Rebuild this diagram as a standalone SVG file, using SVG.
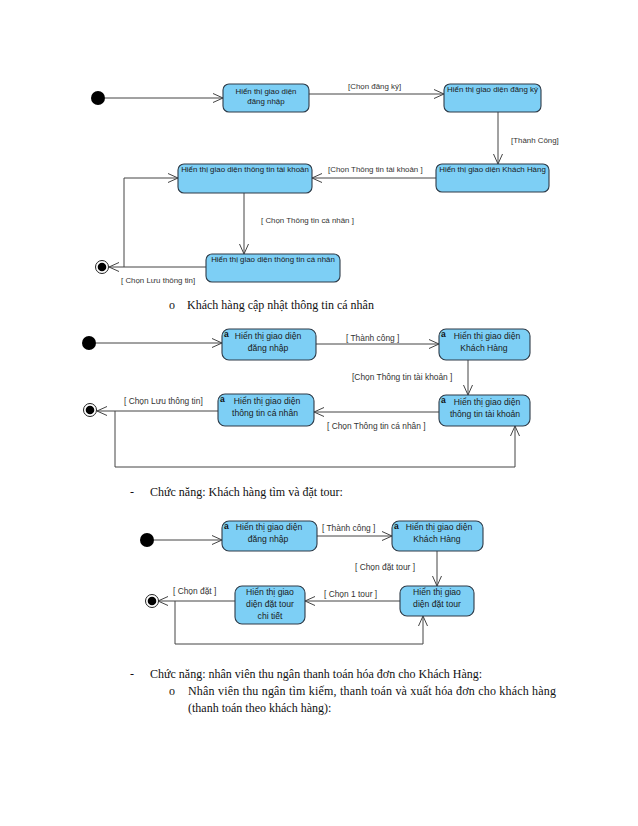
<svg xmlns="http://www.w3.org/2000/svg" width="638" height="826" viewBox="0 0 638 826">
<style>
.node{fill:#7dcff5;stroke:#2e3b48;stroke-width:1.1}
.nt{font-family:"Liberation Sans",Arial,sans-serif;fill:#1a1a1a;text-anchor:middle}
.s1{font-size:7.9px}
.s2{font-size:8.6px}
.lb{font-family:"Liberation Sans",Arial,sans-serif;fill:#333;}
.l1{font-size:7.9px}
.l2{font-size:8.4px}
.ic{font-family:"Liberation Sans",Arial,sans-serif;font-size:8.5px;fill:#111;font-weight:bold}
.doc{font-family:"Liberation Serif","Times New Roman",serif;font-size:12px;fill:#111}
.c{fill:none;stroke:#444;stroke-width:1}
.init{fill:#000}
</style>
<defs>
<marker id="arr" markerUnits="userSpaceOnUse" markerWidth="12" markerHeight="12" viewBox="0 0 12 12" refX="11" refY="6" orient="auto">
<path d="M1,1.5 L11,6 L1,10.5" fill="none" stroke="#444" stroke-width="1"/>
</marker>
</defs>

<g id="connectors">
<path class="c" d="M105,98 L223,98" marker-end="url(#arr)"/>
<path class="c" d="M309,94 L444,94" marker-end="url(#arr)"/>
<path class="c" d="M498,112 L498,164" marker-end="url(#arr)"/>
<path class="c" d="M436,178 L312,178" marker-end="url(#arr)"/>
<path class="c" d="M244,193 L244,254" marker-end="url(#arr)"/>
<path class="c" d="M206,267 L109,267" marker-end="url(#arr)"/>
<path class="c" d="M124,267 L124,178 L178,178" marker-end="url(#arr)"/>
<path class="c" d="M96,343 L222,343" marker-end="url(#arr)"/>
<path class="c" d="M316,344 L439,344" marker-end="url(#arr)"/>
<path class="c" d="M468,360 L468,395" marker-end="url(#arr)"/>
<path class="c" d="M439,412 L314,412" marker-end="url(#arr)"/>
<path class="c" d="M218,411 L97,411" marker-end="url(#arr)"/>
<path class="c" d="M115,411 L115,467 L515,467 L515,426" marker-end="url(#arr)"/>
<path class="c" d="M154,540 L222,540" marker-end="url(#arr)"/>
<path class="c" d="M317,536 L392,536" marker-end="url(#arr)"/>
<path class="c" d="M437,551 L437,586" marker-end="url(#arr)"/>
<path class="c" d="M400,601 L305,601" marker-end="url(#arr)"/>
<path class="c" d="M235,601 L158,601" marker-end="url(#arr)"/>
<path class="c" d="M175,601 L175,644 L423,644 L423,616" marker-end="url(#arr)"/>
</g>

<g id="labels">
<text class="lb l1" x="348" y="89">[Chọn đăng ký]</text>
<text class="lb l1" x="511" y="143">[Thành Công]</text>
<text class="lb l1" x="328" y="172">[Chọn Thông tin tài khoản ]</text>
<text class="lb l1" x="261" y="223">[ Chọn Thông tin cá nhân ]</text>
<text class="lb l1" x="121" y="283">[ Chọn Lưu thông tin]</text>

<text class="lb l2" x="346" y="341">[ Thành công ]</text>
<text class="lb l2" x="352" y="380">[Chọn Thông tin tài khoản ]</text>
<text class="lb l2" x="327" y="429">[ Chọn Thông tin cá nhân ]</text>
<text class="lb l2" x="124" y="404">[ Chọn Lưu thông tin]</text>

<text class="lb l2" x="322" y="531">[ Thành công ]</text>
<text class="lb l2" x="355" y="570">[ Chọn đặt tour ]</text>
<text class="lb l2" x="324" y="597">[ Chọn 1 tour ]</text>
<text class="lb l2" x="173" y="594">[ Chọn đặt ]</text>
</g>

<g id="d1-initial"><circle class="init" cx="98" cy="98" r="7"/></g>
<g id="d1-dangnhap">
<rect class="node" x="223" y="84" width="86" height="28" rx="6"/>
<text class="nt s1" x="266" y="94">Hiển thị giao diện</text>
<text class="nt s1" x="266" y="104">đăng nhập</text>
</g>
<g id="d1-dangky">
<rect class="node" x="444" y="84" width="97" height="28" rx="6"/>
<text class="nt s1" x="492.5" y="92">Hiển thị giao diện đăng ký</text>
</g>
<g id="d1-khachhang">
<rect class="node" x="436" y="164" width="113" height="28" rx="6"/>
<text class="nt s1" x="492.5" y="172">Hiển thị giao diện Khách Hàng</text>
</g>
<g id="d1-taikhoan">
<rect class="node" x="178" y="164" width="134" height="29" rx="6"/>
<text class="nt s1" x="245" y="172">Hiển thị giao diện thông tin tài khoản</text>
</g>
<g id="d1-canhan">
<rect class="node" x="206" y="254" width="134" height="28" rx="6"/>
<text class="nt s1" x="273" y="262">Hiển thị giao diện thông tin cá nhân</text>
</g>
<g id="d1-final">
<circle cx="102" cy="267" r="6.5" fill="#fff" stroke="#222" stroke-width="1"/>
<circle cx="102" cy="267" r="4.3" fill="#000"/>
</g>

<text class="doc" x="169" y="309">o</text>
<text class="doc" x="187" y="309">Khách hàng cập nhật thông tin cá nhân</text>

<g id="d2-initial"><circle class="init" cx="89" cy="343" r="7"/></g>
<g id="d2-dangnhap">
<rect class="node" x="222" y="329" width="94" height="31" rx="7"/>
<text class="ic" x="224" y="337">a</text>
<text class="nt s2" x="268" y="339">Hiển thị giao diện</text>
<text class="nt s2" x="268" y="351">đăng nhập</text>
</g>
<g id="d2-khachhang">
<rect class="node" x="439" y="329" width="91" height="31" rx="7"/>
<text class="ic" x="441" y="337">a</text>
<text class="nt s2" x="487" y="339">Hiển thị giao diện</text>
<text class="nt s2" x="484" y="351">Khách Hàng</text>
</g>
<g id="d2-taikhoan">
<rect class="node" x="439" y="395" width="91" height="31" rx="7"/>
<text class="ic" x="441" y="403">a</text>
<text class="nt s2" x="487" y="405">Hiển thị giao diện</text>
<text class="nt s2" x="485" y="417">thông tin tài khoản</text>
</g>
<g id="d2-canhan">
<rect class="node" x="218" y="394" width="96" height="32" rx="7"/>
<text class="ic" x="220" y="402">a</text>
<text class="nt s2" x="267" y="404">Hiển thị giao diện</text>
<text class="nt s2" x="265" y="416">thông tin cá nhân</text>
</g>
<g id="d2-final">
<circle cx="90" cy="410" r="6.5" fill="#fff" stroke="#222" stroke-width="1"/>
<circle cx="90" cy="410" r="4.3" fill="#000"/>
</g>

<text class="doc" x="130" y="496">-</text>
<text class="doc" x="150" y="496">Chức năng: Khách hàng tìm và đặt tour:</text>

<g id="d3-initial"><circle class="init" cx="147" cy="540" r="7"/></g>
<g id="d3-dangnhap">
<rect class="node" x="222" y="521" width="95" height="30" rx="7"/>
<text class="ic" x="224" y="529">a</text>
<text class="nt s2" x="269" y="530">Hiển thị giao diện</text>
<text class="nt s2" x="268" y="542">đăng nhập</text>
</g>
<g id="d3-khachhang">
<rect class="node" x="392" y="521" width="91" height="30" rx="7"/>
<text class="ic" x="394" y="529">a</text>
<text class="nt s2" x="439" y="530">Hiển thị giao diện</text>
<text class="nt s2" x="437" y="542">Khách Hàng</text>
</g>
<g id="d3-dattour">
<rect class="node" x="400" y="586" width="74" height="30" rx="7"/>
<text class="nt s2" x="437" y="595">Hiển thị giao</text>
<text class="nt s2" x="437" y="607">diện đặt tour</text>
</g>
<g id="d3-chitiet">
<rect class="node" x="235" y="586" width="70" height="38" rx="7"/>
<text class="nt s2" x="270" y="595">Hiển thị giao</text>
<text class="nt s2" x="270" y="607">diện đặt tour</text>
<text class="nt s2" x="270" y="619">chi tiết</text>
</g>
<g id="d3-final">
<circle cx="152" cy="601" r="6.5" fill="#fff" stroke="#222" stroke-width="1"/>
<circle cx="152" cy="601" r="4.3" fill="#000"/>
</g>

<text class="doc" x="130" y="678">-</text>
<text class="doc" x="150" y="678">Chức năng: nhân viên thu ngân thanh toán hóa đơn cho Khách Hàng:</text>
<text class="doc" x="169" y="695">o</text>
<text class="doc" x="188" y="695" textLength="368" lengthAdjust="spacing">Nhân viên thu ngân tìm kiếm, thanh toán và xuất hóa đơn cho khách hàng</text>
<text class="doc" x="188" y="712">(thanh toán theo khách hàng):</text>
</svg>
